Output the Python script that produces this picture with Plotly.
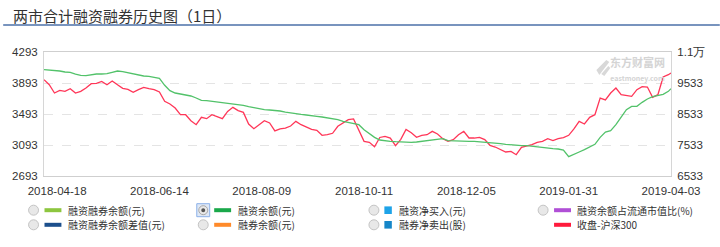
import pandas as pd
import plotly.graph_objects as go

# ---------------- data ----------------
HOLIDAYS = ["2018-04-30", "2018-05-01", "2018-06-18", "2018-09-24",
            "2018-10-01", "2018-10-02", "2018-10-03", "2018-10-04", "2018-10-05",
            "2018-12-31", "2019-01-01",
            "2019-02-04", "2019-02-05", "2019-02-06", "2019-02-07", "2019-02-08"]
trading_days = [d.strftime("%Y-%m-%d") for d in pd.bdate_range("2018-04-11", "2019-04-03")
                if d.strftime("%Y-%m-%d") not in HOLIDAYS]
sample_days = trading_days[0::2] + [trading_days[-1]]

tick_dates = ["2018-04-18", "2018-06-14", "2018-08-09", "2018-10-11",
              "2018-12-05", "2019-01-31", "2019-04-03"]

# 收盘-沪深300 (left axis)
hs300_close = [
    3936, 3871, 3764, 3798, 3785, 3820, 3764, 3785, 3828, 3884,
    3889, 3914, 3871, 3919, 3871, 3824, 3811, 3773, 3807, 3837,
    3820, 3807, 3777, 3656, 3622, 3570, 3484, 3484, 3407, 3355,
    3450, 3433, 3484, 3463, 3433, 3527, 3579, 3536, 3514, 3364,
    3304, 3355, 3407, 3377, 3274, 3300, 3312, 3338, 3398, 3355,
    3321, 3295, 3282, 3218, 3226, 3244, 3334, 3381, 3420, 3430,
    3291, 3140, 3127, 3070, 3190, 3205, 3183, 3084, 3166, 3295,
    3252, 3192, 3218, 3226, 3269, 3235, 3175, 3140, 3162, 3226,
    3269, 3183, 3183, 3192, 3162, 3089, 3067, 3033, 3003, 3011,
    2968, 3063, 3080, 3097, 3127, 3140, 3175, 3149, 3175, 3188,
    3218, 3300, 3398, 3364, 3450, 3484, 3699, 3674, 3764, 3828,
    3742, 3734, 3721, 3807, 3846, 3841, 3708, 3742, 3970, 4000,
    4022,
]

# 融资余额 (亿元, right axis)
margin_balance = [
    9963, 9952, 9942, 9920, 9888, 9877, 9823, 9780, 9770, 9802,
    9823, 9823, 9834, 9877, 9920, 9899, 9866, 9823, 9780, 9759,
    9748, 9716, 9683, 9458, 9286, 9210, 9178, 9146, 9114, 9049,
    8974, 8963, 8941, 8920, 8898, 8877, 8866, 8834, 8813, 8770,
    8737, 8705, 8673, 8662, 8651, 8630, 8597, 8565, 8544, 8522,
    8501, 8490, 8458, 8436, 8415, 8382, 8350, 8296, 8253, 8210,
    8189, 8028, 7909, 7780, 7694, 7662, 7651, 7640, 7630, 7619,
    7619, 7630, 7651, 7673, 7705, 7737, 7737, 7673, 7662, 7651,
    7651, 7651, 7651, 7640, 7630, 7608, 7587, 7576, 7554, 7533,
    7511, 7511, 7511, 7490, 7468, 7436, 7415, 7415, 7404, 7372,
    7156, 7221, 7307, 7382, 7458, 7554, 7780, 7952, 7995, 8189,
    8436, 8673, 8780, 8780, 8909, 9017, 9092, 9124, 9167, 9264,
    9350,
]

left_ticks = [2693, 3093, 3493, 3893, 4293]
right_ticks = [6533, 7533, 8533, 9533, 10533]
right_tick_text = ["6533", "7533", "8533", "9533", "1.1万"]

# legend columns: (label, colour, swatch kind, radio state) for row 1 and row 2
legend_cols = [
    [("融资融券余额(元)", "#8dc63f", "line", "radio"),
     ("融资融券余额差值(元)", "#1c4f8c", "line", "radio")],
    [("融资余额(元)", "#1aa84a", "line", "selected"),
     ("融券余额(元)", "#ff8a2a", "line", "radio")],
    [("融资净买入(元)", "#1ea3e8", "square", "radio"),
     ("融券净卖出(股)", "#1686c8", "square", "radio")],
    [("融资余额占流通市值比(%)", "#b04fd6", "line", "radio"),
     ("收盘-沪深300", "#ff1a3c", "line", None)],
]

# ---------------- layout helpers ----------------
W, H = 720, 247
L, R, T, B = 41, 671, 52, 176
CJK = "Noto Sans CJK SC, Noto Sans, sans-serif"
NUM = "Liberation Sans, DejaVu Sans, sans-serif"


def xp(px):
    return (px - L) / (R - L)


def yp(py):
    return (B - py) / (B - T)


fig = go.Figure()
fig.add_trace(go.Scatter(x=sample_days, y=margin_balance, mode="lines", yaxis="y2",
                         line=dict(color="#52c26a", width=1.3), name="融资余额(元)",
                         hoverinfo="skip"))
fig.add_trace(go.Scatter(x=sample_days, y=hs300_close, mode="lines", yaxis="y",
                         line=dict(color="#ff3658", width=1.3), name="收盘-沪深300",
                         hoverinfo="skip"))

shapes = []
annotations = []

# title + underline
annotations.append(dict(text="两市合计融资融券历史图（1日）", xref="paper", yref="paper",
                        x=xp(8), y=yp(15), xanchor="left", yanchor="middle", showarrow=False,
                        font=dict(family=CJK, size=15, color="#333333")))
shapes.append(dict(type="line", xref="paper", yref="paper", x0=xp(0), x1=xp(720),
                   y0=yp(25), y1=yp(25), line=dict(color="#4b70a8", width=1.5)))

# watermark
annotations.append(dict(text="<b>东方财富网</b><br><span style='font-size:7px'><b>eastmoney.com</b></span>",
                        xref="paper", yref="paper", x=xp(637), y=yp(68.5),
                        xanchor="center", yanchor="middle", showarrow=False, align="center",
                        font=dict(family=CJK, size=11, color="#d4d4d4")))
shapes.append(dict(type="path", xref="paper", yref="paper", fillcolor="#d8d8d8", line=dict(width=0),
                   path="M {} {} L {} {} L {} {} L {} {} Z".format(
                       xp(596), yp(70), xp(606), yp(60), xp(609), yp(62), xp(599), yp(75))))
shapes.append(dict(type="path", xref="paper", yref="paper", fillcolor="#d8d8d8", line=dict(width=0),
                   path="M {} {} L {} {} L {} {} L {} {} Z".format(
                       xp(601), yp(74), xp(608), yp(66), xp(610), yp(68), xp(604), yp(76))))

# custom legend
col_x = [30.5, 201, 372.5, 542.5]
row_y = [210.2, 224.8]
for c, col in enumerate(legend_cols):
    cx = col_x[c]
    for r, (label, color, kind, radio) in enumerate(col):
        cy = row_y[r]
        if radio == "radio":
            shapes.append(dict(type="circle", xref="paper", yref="paper",
                               x0=xp(cx - 5), x1=xp(cx + 5), y0=yp(cy + 5), y1=yp(cy - 5),
                               fillcolor="#e8e8e8", line=dict(color="#c4c4c4", width=1)))
        elif radio == "selected":
            shapes.append(dict(type="rect", xref="paper", yref="paper",
                               x0=xp(cx - 6.5), x1=xp(cx + 6.5), y0=yp(cy + 6.5), y1=yp(cy - 6.5),
                               fillcolor="#dfe8f5", line=dict(color="#8cb0e8", width=1)))
            shapes.append(dict(type="circle", xref="paper", yref="paper",
                               x0=xp(cx - 4.5), x1=xp(cx + 4.5), y0=yp(cy + 4.5), y1=yp(cy - 4.5),
                               fillcolor="#e8e8e8", line=dict(color="#a8a8a8", width=1)))
            shapes.append(dict(type="circle", xref="paper", yref="paper",
                               x0=xp(cx - 2), x1=xp(cx + 2), y0=yp(cy + 2), y1=yp(cy - 2),
                               fillcolor="#555555", line=dict(width=0)))
        sx = cx + 11
        if kind == "line":
            shapes.append(dict(type="line", xref="paper", yref="paper",
                               x0=xp(sx), x1=xp(sx + 17), y0=yp(cy), y1=yp(cy),
                               line=dict(color=color, width=4)))
            tx = sx + 21.5
        else:
            shapes.append(dict(type="rect", xref="paper", yref="paper",
                               x0=xp(sx - 0.5), x1=xp(sx + 7), y0=yp(cy + 3.8), y1=yp(cy - 3.8),
                               fillcolor=color, line=dict(width=0)))
            tx = sx + 12.5
        annotations.append(dict(text=label, xref="paper", yref="paper", x=xp(tx), y=yp(cy),
                                xanchor="left", yanchor="middle", showarrow=False,
                                font=dict(family=CJK, size=10, color="#333333")))

fig.update_layout(
    width=W, height=H,
    margin=dict(l=L, r=W - R, t=T, b=H - B, pad=0),
    paper_bgcolor="white", plot_bgcolor="white",
    showlegend=False,
    xaxis=dict(type="category", categoryorder="array", categoryarray=trading_days,
               range=[0, len(trading_days) - 1], tickmode="array", tickvals=tick_dates,
               ticktext=tick_dates, showgrid=False, zeroline=False,
               showline=True, mirror=True, linecolor="#cfcfcf", linewidth=1,
               ticks="outside", ticklen=4, tickcolor="rgba(0,0,0,0)",
               tickfont=dict(family=NUM, size=11.5, color="#333333")),
    yaxis=dict(range=[left_ticks[0], left_ticks[-1]], tickmode="array", tickvals=left_ticks,
               ticktext=[str(v) for v in left_ticks],
               showgrid=True, gridcolor="#e4e4e4", griddash="dash", gridwidth=1,
               zeroline=False, showline=True, mirror=True, linecolor="#d6d6d6",
               ticks="outside", ticklen=3, tickcolor="rgba(0,0,0,0)",
               tickfont=dict(family=NUM, size=11.5, color="#333333")),
    yaxis2=dict(range=[right_ticks[0], right_ticks[-1]], overlaying="y", side="right",
                tickmode="array", tickvals=right_ticks, ticktext=right_tick_text,
                showgrid=False, zeroline=False, showline=False,
                ticks="outside", ticklen=3, tickcolor="rgba(0,0,0,0)",
                tickfont=dict(family=NUM, size=11.5, color="#333333")),
    shapes=shapes, annotations=annotations,
)

fig.write_html("out.html")
